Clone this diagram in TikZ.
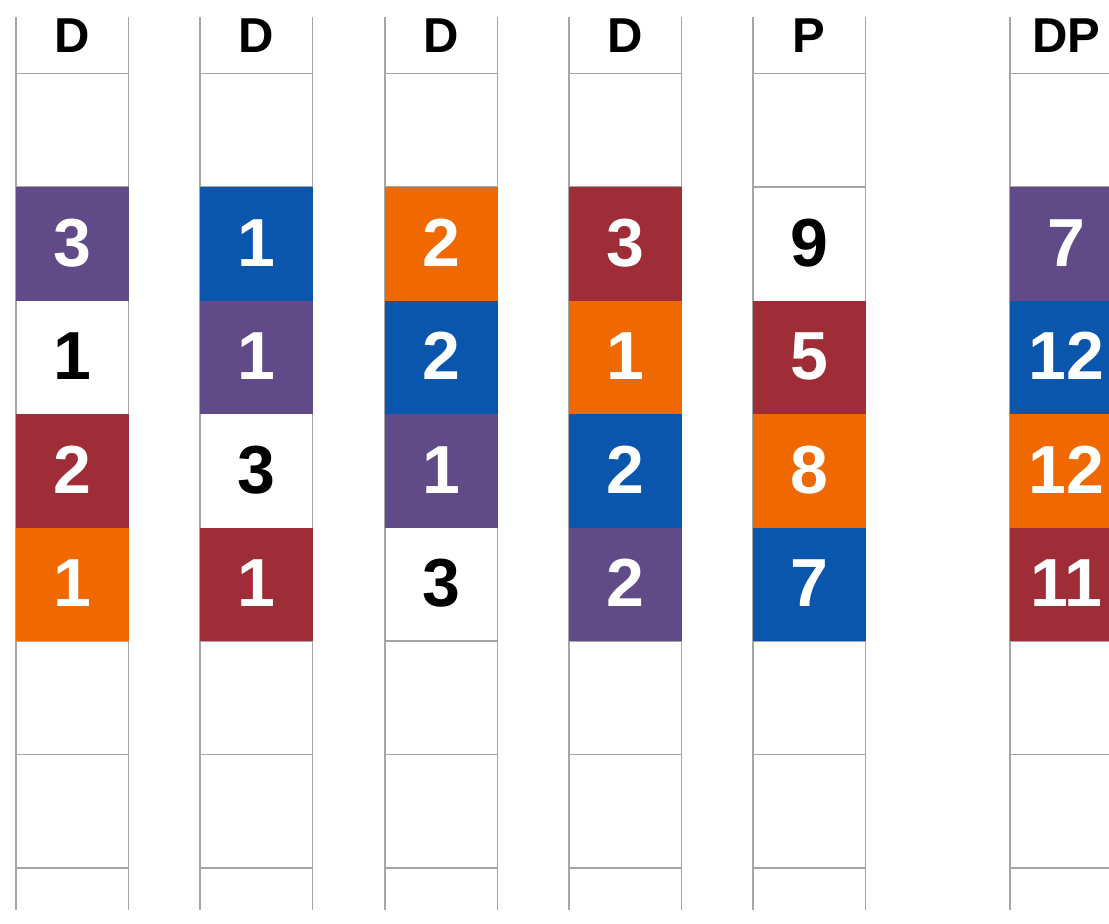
\documentclass[tikz,border=0pt]{standalone}
\usepackage{fontspec}
\setmainfont{Liberation Sans}
\definecolor{cpurple}{RGB}{96,74,136}
\definecolor{cblue}{RGB}{10,86,172}
\definecolor{corange}{RGB}{240,104,0}
\definecolor{cred}{RGB}{158,45,56}
\definecolor{cwhite}{RGB}{255,255,255}
\definecolor{gridgray}{RGB}{165,165,165}
\tikzset{
  gridline/.style={draw=gridgray, line width=1.6pt},
  cellbox/.style={anchor=north west, minimum width=112.5pt, minimum height=113.5pt, inner sep=0pt, outer sep=0pt,
    font=\fontsize{68}{68}\selectfont\bfseries},
  headtext/.style={anchor=base, inner sep=0pt, font=\fontsize{49}{49}\selectfont\bfseries}
}
\begin{document}
\begin{tikzpicture}[x=1pt,y=-1pt]
\useasboundingbox (0,0) rectangle (1109,924);
\fill[white] (0,0) rectangle (1109,924);
\clip (0,0) rectangle (1109,924);
% columns: left edges
\foreach \cx/\name/\hd in {16/c1/D,200/c2/D,385/c3/D,569/c4/D,753/c5/P,1010/c6/DP}{
  \draw[gridline] (\cx,17) -- (\cx,910);
  \draw[gridline] (\cx+112.5,17) -- (\cx+112.5,910);
  \foreach \k in {0,...,7}{
    \draw[gridline] (\cx,73.5+113.5*\k) -- (\cx+112.5,73.5+113.5*\k);
  }
  \node[headtext] (\name h) at (\cx+56.25,52) {\hd};
}
% cells: column, row index (1..4), fill, text colour, label
\foreach \name/\cx/\r/\fc/\tc/\lab in {
  c1/16/1/cpurple/white/3, c1/16/2/cwhite/black/1, c1/16/3/cred/white/2, c1/16/4/corange/white/1,
  c2/200/1/cblue/white/1, c2/200/2/cpurple/white/1, c2/200/3/cwhite/black/3, c2/200/4/cred/white/1,
  c3/385/1/corange/white/2, c3/385/2/cblue/white/2, c3/385/3/cpurple/white/1, c3/385/4/cwhite/black/3,
  c4/569/1/cred/white/3, c4/569/2/corange/white/1, c4/569/3/cblue/white/2, c4/569/4/cpurple/white/2,
  c5/753/1/cwhite/black/9, c5/753/2/cred/white/5, c5/753/3/corange/white/8, c5/753/4/cblue/white/7,
  c6/1010/1/cpurple/white/7, c6/1010/2/cblue/white/12, c6/1010/3/corange/white/12, c6/1010/4/cred/white/11}{
  \ifx\fc\empty\else\fi
  \node[cellbox, fill=\fc, text=\tc] (\name r\r) at (\cx,73.5+113.5*\r) {\raisebox{2pt}{\lab}};
}
% redraw lines around the white cells so their borders stay visible
\draw[gridline] (c1r2.north west) -- (c1r2.south west) (c1r2.north east) -- (c1r2.south east);
\draw[gridline] (c2r3.north west) -- (c2r3.south west) (c2r3.north east) -- (c2r3.south east);
\draw[gridline] (c3r4.north west) -- (c3r4.south west) (c3r4.north east) -- (c3r4.south east) (c3r4.south west) -- (c3r4.south east);
\draw[gridline] (c5r1.north west) -- (c5r1.south west) (c5r1.north east) -- (c5r1.south east) (c5r1.north west) -- (c5r1.north east);
\end{tikzpicture}
\end{document}
